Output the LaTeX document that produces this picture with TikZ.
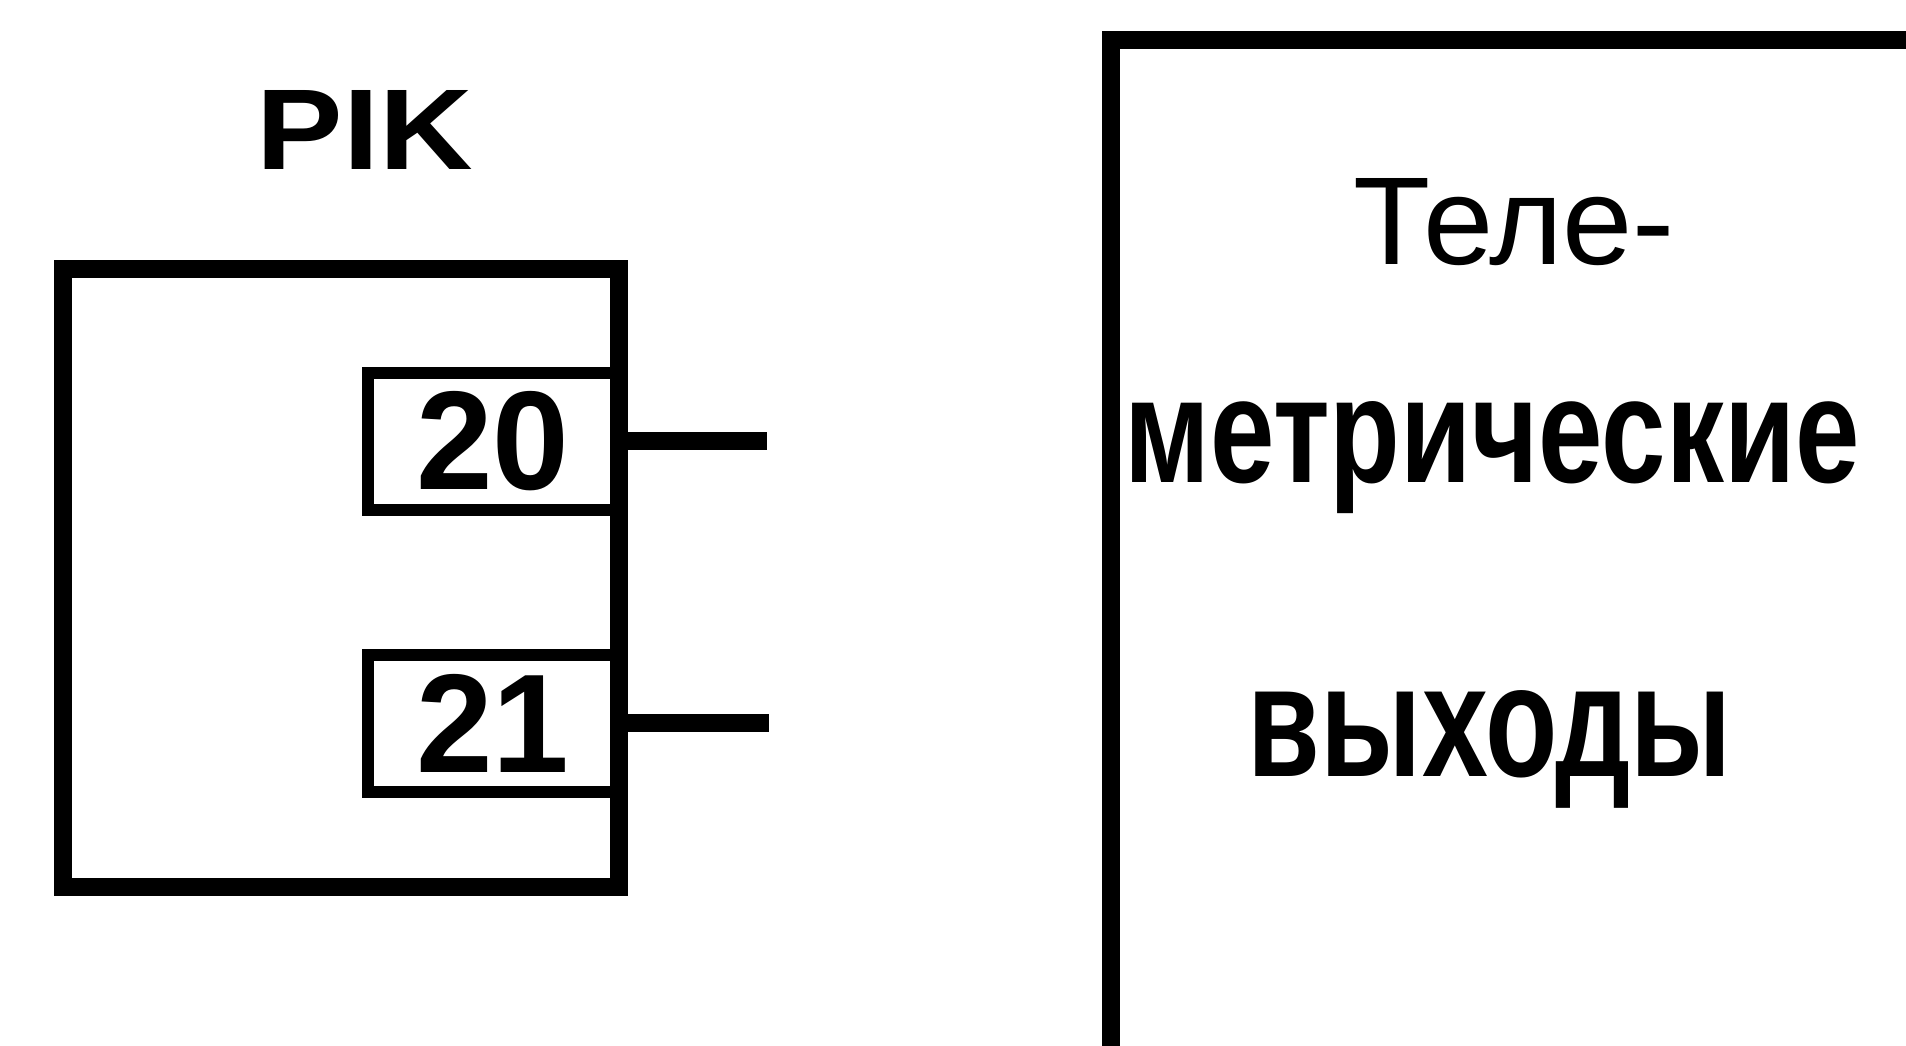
\documentclass[tikz,border=0pt]{standalone}
\usepackage{fontspec}
\setmainfont{Liberation Sans}
\usetikzlibrary{positioning}

\begin{document}
\begin{tikzpicture}[
    blockbox/.style={draw, line width=0.18cm, inner sep=0pt},
    pinbox/.style={draw, line width=0.12cm, inner sep=0pt, minimum width=2.5cm, minimum height=1.37cm},
    pinnum/.style={font=\fontsize{40}{40}\selectfont\bfseries},
    wire/.style={line width=0.18cm},
]
  \useasboundingbox (0,0) rectangle (19.06,10.45);
  \clip (0,0) rectangle (19.06,10.45);
  \fill[white] (0,0) rectangle (19.06,10.45);

  % PIK block
  \node[anchor=base, font=\bfseries] (piktitle) at (3.65,8.75) {\resizebox{2.16cm}{0.79cm}{PIK}};
  \node[blockbox, minimum width=5.56cm, minimum height=6.17cm] (pik) at (3.41,4.67) {};
  \node[pinbox, pinnum] (pin20) at (4.93,6.035) {\scalebox{0.98}[1]{20}};
  \node[pinbox, pinnum] (pin21) at (4.93,3.215) {\scalebox{0.98}[1]{21}};
  \coordinate (out20) at ([xshift=1.43cm]pin20.east);
  \coordinate (out21) at ([xshift=1.45cm]pin21.east);
  \draw[wire] (pin20.east) -- (out20);
  \draw[wire] (pin21.east) -- (out21);

  % telemetry outputs block
  \node[blockbox, minimum width=10cm, minimum height=12cm] (telem) at (16.11,4.05) {};
  \node[anchor=base] (tele1) at (15.14,7.80) {\resizebox{3.22cm}{0.86cm}{Теле-}};
  \node[anchor=base, font=\bfseries] (tele2) at (14.92,5.62) {\resizebox{7.35cm}{0.81cm}{метрические}};
  \node[anchor=base, font=\bfseries] (tele3) at (14.90,2.68) {\resizebox{4.84cm}{0.86cm}{выходы}};
\end{tikzpicture}
\end{document}
